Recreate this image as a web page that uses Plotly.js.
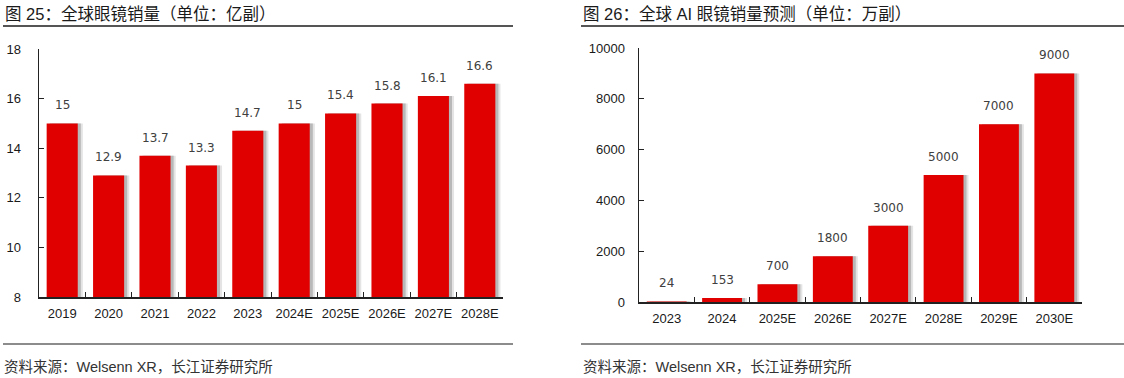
<!DOCTYPE html>
<html>
<head>
<meta charset="utf-8">
<script src="https://cdn.plot.ly/plotly-3.0.1.min.js"></script>
<style>html,body{margin:0;padding:0;background:#fff;}#chart{width:1124px;height:378px;}</style>
</head>
<body>
<div id="chart"></div>
<script>
// ---- data ----
const leftCategories = ["2019","2020","2021","2022","2023","2024E","2025E","2026E","2027E","2028E"];
const leftValues = [15, 12.9, 13.7, 13.3, 14.7, 15, 15.4, 15.8, 16.1, 16.6];
const leftTicks = [8, 10, 12, 14, 16, 18];
const rightCategories = ["2023","2024","2025E","2026E","2027E","2028E","2029E","2030E"];
const rightValues = [24, 153, 700, 1800, 3000, 5000, 7000, 9000];
const rightTicks = [0, 2000, 4000, 6000, 8000, 10000];
const leftTitle = "图 25：全球眼镜销量（单位：亿副）";
const rightTitle = "图 26：全球 AI 眼镜销量预测（单位：万副）";
const sourceText = "资料来源：Welsenn XR，长江证券研究所";

// ---- style ----
const W = 1124, H = 378;
const px = x => x / W;
const py = y => 1 - y / H;
const RED = "#E00000";
const LW = 0.67, RW = 0.72;

function shadowTraces(cats, vals, w, d, xa, ya) {
  return [
    {type:"bar", x:cats, y:vals, width:w, offset:-w/2 + d*1.0, marker:{color:"#e4e4e4"}, xaxis:xa, yaxis:ya, hoverinfo:"skip", showlegend:false},
    {type:"bar", x:cats, y:vals, width:w, offset:-w/2 + d*0.6, marker:{color:"#b8b8b8"}, xaxis:xa, yaxis:ya, hoverinfo:"skip", showlegend:false}
  ];
}

const data = [
  ...shadowTraces(leftCategories, leftValues, LW, 0.11, "x", "y"),
  {type:"bar", x:leftCategories, y:leftValues, width:LW, marker:{color:RED}, xaxis:"x", yaxis:"y", showlegend:false},
  ...shadowTraces(rightCategories, rightValues, RW, 0.09, "x2", "y2"),
  {type:"bar", x:rightCategories, y:rightValues, width:RW, marker:{color:RED}, xaxis:"x2", yaxis:"y2", showlegend:false}
];

const labelFont = {family:"DejaVu Sans, Liberation Sans, sans-serif", size:12, color:"#404040"};
const annotations = [];
leftCategories.forEach((c,i)=>annotations.push({x:i, y:leftValues[i], xref:"x", yref:"y", text:String(leftValues[i]), showarrow:false, yshift:18, font:labelFont}));
rightCategories.forEach((c,i)=>annotations.push({x:i, y:rightValues[i], xref:"x2", yref:"y2", text:String(rightValues[i]), showarrow:false, yshift:18, font:labelFont}));

const titleFont = {family:"Liberation Sans, Noto Sans CJK SC, sans-serif", size:16.5, color:"#1a1a1a"};
const srcFont = {family:"Liberation Sans, Noto Sans CJK SC, sans-serif", size:14.5, color:"#333"};
annotations.push({xref:"paper", yref:"paper", x:px(3), y:py(14), xanchor:"left", yanchor:"middle", text:leftTitle, showarrow:false, font:titleFont});
annotations.push({xref:"paper", yref:"paper", x:px(581), y:py(14), xanchor:"left", yanchor:"middle", text:rightTitle, showarrow:false, font:titleFont});
annotations.push({xref:"paper", yref:"paper", x:px(2), y:py(367), xanchor:"left", yanchor:"middle", text:sourceText, showarrow:false, font:srcFont});
annotations.push({xref:"paper", yref:"paper", x:px(581), y:py(367), xanchor:"left", yanchor:"middle", text:sourceText, showarrow:false, font:srcFont});

const lineStyle = {color:"#555", width:2};
const shapes = [
  {type:"line", xref:"paper", yref:"paper", x0:px(3), x1:px(513), y0:py(26), y1:py(26), line:lineStyle},
  {type:"line", xref:"paper", yref:"paper", x0:px(581), x1:1, y0:py(26), y1:py(26), line:lineStyle},
  {type:"line", xref:"paper", yref:"paper", x0:px(3), x1:px(513), y0:py(344), y1:py(344), line:{color:"#666", width:1.5}},
  {type:"line", xref:"paper", yref:"paper", x0:px(581), x1:1, y0:py(344), y1:py(344), line:{color:"#666", width:1.5}}
];

const tickFont = {family:"Liberation Sans, Arial, sans-serif", size:13, color:"#1a1a1a"};
const xCommon = {type:"category", showline:true, linecolor:"#222", linewidth:1.5, ticks:"inside", ticklen:5, tickcolor:"#222", tickson:"boundaries", showgrid:false, zeroline:false, tickfont:tickFont, tickangle:0, ticklabelstandoff:4, fixedrange:true};
const yCommon = {showline:true, linecolor:"#222", linewidth:1.5, ticks:"inside", ticklen:5, tickcolor:"#222", showgrid:false, zeroline:false, tickfont:tickFont, tickformat:"d", fixedrange:true};

const layout = {
  width:W, height:H,
  margin:{l:0, r:0, t:0, b:0},
  paper_bgcolor:"#fff", plot_bgcolor:"rgba(0,0,0,0)",
  barmode:"overlay",
  showlegend:false,
  xaxis:{...xCommon, domain:[px(39), px(503)], anchor:"y", range:[-0.5, leftCategories.length-0.5]},
  yaxis:{...yCommon, domain:[py(297), py(49)], anchor:"x", range:[8,18], tickvals:leftTicks, ticklabelstandoff:14},
  xaxis2:{...xCommon, domain:[px(639), px(1082)], anchor:"y2", range:[-0.5, rightCategories.length-0.5]},
  yaxis2:{...yCommon, domain:[py(302), py(48)], anchor:"x2", range:[0,10000], tickvals:rightTicks, ticklabelstandoff:10},
  annotations, shapes
};

Plotly.newPlot("chart", data, layout, {staticPlot:true, displayModeBar:false});
</script>
</body>
</html>
